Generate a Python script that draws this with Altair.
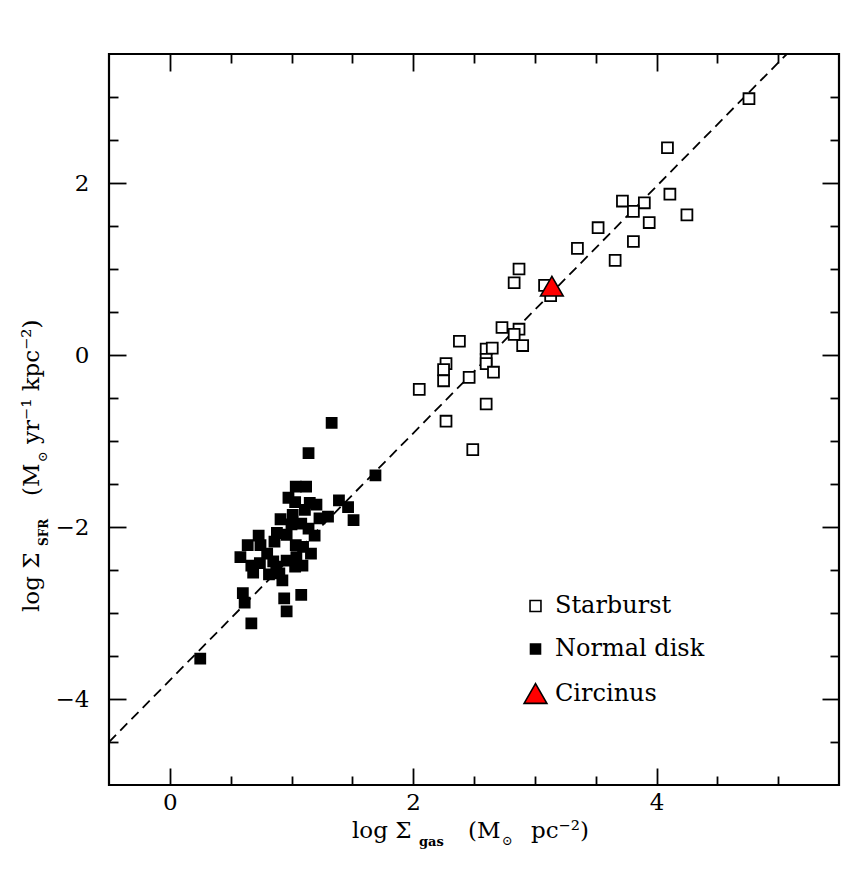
import altair as alt
import pandas as pd

# ---------------- data ----------------
starburst_x = [2.87, 2.83, 3.08, 3.13, 2.73, 2.87, 2.83, 2.90, 2.38, 2.60, 2.65,
               2.60, 2.60, 2.66, 2.27, 2.25, 2.25, 2.46, 2.05, 2.60, 2.27, 2.49,
               4.76, 4.09, 4.11, 4.25, 3.72, 3.90, 3.81, 3.94, 3.52, 3.81, 3.35, 3.66]
starburst_y = [1.00, 0.84, 0.81, 0.69, 0.32, 0.30, 0.24, 0.11, 0.16, 0.07, 0.08,
               -0.05, -0.10, -0.20, -0.10, -0.17, -0.30, -0.26, -0.40, -0.57, -0.77, -1.10,
               2.98, 2.41, 1.87, 1.63, 1.79, 1.77, 1.67, 1.54, 1.48, 1.32, 1.24, 1.10]

disk_x = [1.33, 1.14, 1.69, 1.035, 1.12, 0.975, 1.03, 1.15, 1.205, 1.39, 1.465,
          1.51, 1.30, 1.23, 1.11, 1.01, 0.91, 1.00, 1.08, 1.14, 1.19, 0.88,
          0.96, 0.73, 0.745, 0.64, 0.86, 1.035, 1.095, 1.16, 0.80, 0.58, 0.74,
          0.85, 0.96, 1.04, 1.09, 1.03, 0.67, 0.685, 0.815, 0.90, 0.925, 0.875,
          0.60, 0.615, 0.94, 1.08, 0.96, 0.67, 0.25]
disk_y = [-0.79, -1.14, -1.40, -1.53, -1.53, -1.66, -1.71, -1.72, -1.74, -1.69, -1.77,
          -1.92, -1.88, -1.90, -1.80, -1.86, -1.91, -1.97, -1.96, -2.02, -2.10, -2.07,
          -2.09, -2.10, -2.21, -2.21, -2.17, -2.21, -2.23, -2.31, -2.31, -2.35, -2.42,
          -2.40, -2.39, -2.35, -2.45, -2.46, -2.45, -2.53, -2.55, -2.54, -2.62, -2.46,
          -2.77, -2.88, -2.83, -2.79, -2.98, -3.12, -3.53]

circinus_x = [3.14]
circinus_y = [0.80]

fit_x = [-0.5, 5.071]
fit_y = [-4.50, 3.50]

categories = ["Starburst", "Normal disk", "Circinus"]
x_ticks = [0, 0.5, 1, 1.5, 2, 2.5, 3, 3.5, 4, 4.5, 5]
y_ticks = [-4.5, -4, -3.5, -3, -2.5, -2, -1.5, -1, -0.5, 0, 0.5, 1, 1.5, 2, 2.5, 3]
x_labels = [0, 2, 4]
y_labels = [-4, -2, 0, 2]

# ---------------- tables ----------------
squares = pd.DataFrame({
    "x": starburst_x + disk_x,
    "y": starburst_y + disk_y,
    "type": ["Starburst"] * len(starburst_x) + ["Normal disk"] * len(disk_x),
})
circ = pd.DataFrame({"x": circinus_x, "y": circinus_y, "type": ["Circinus"]})
fit = pd.DataFrame({"x": fit_x, "y": fit_y})

W, H = 730, 731
FONT = "DejaVu Serif"
xs = alt.Scale(domain=[-0.5, 5.5], nice=False, zero=False)
ys = alt.Scale(domain=[-5, 3.5], nice=False, zero=False)

tick_cond = {"condition": {"test": "abs(datum.value % 2) < 0.01", "value": 17}, "value": 9}


def tick_axis(orient, offset, values):
    return alt.Axis(orient=orient, offset=offset, values=values, labels=False,
                    domain=False, grid=False, ticks=True, tickColor="black",
                    tickWidth=1.8, tickSize=tick_cond, title=None)


legend = alt.Legend(orient="none", legendX=414, legendY=540, title=None,
                    labelFont=FONT, labelFontSize=24, labelColor="black",
                    symbolStrokeColor="black", symbolStrokeWidth=1.6,
                    rowPadding=19, labelOffset=7, padding=0)

fill_enc = alt.Fill("type:N", scale=alt.Scale(domain=categories, range=["white", "black", "#ff0000"]),
                    legend=legend)
stroke_enc = alt.Stroke("type:N", scale=alt.Scale(domain=categories, range=["black", "black", "black"]),
                        legend=legend)
shape_enc = alt.Shape("type:N", scale=alt.Scale(domain=categories, range=["square", "square", "triangle-up"]),
                      legend=legend)
size_enc = alt.Size("type:N", scale=alt.Scale(type="ordinal", domain=categories, range=[119, 100, 520]),
                    legend=legend)

# dashed fit line, with label axes
line = alt.Chart(fit).mark_line(color="black", strokeWidth=1.8, strokeDash=[10, 6], clip=True).encode(
    x=alt.X("x:Q", scale=xs, axis=alt.Axis(orient="bottom", values=x_labels, ticks=False, tickSize=0,
                                           domain=False, grid=False, labelFont=FONT, labelFontSize=23,
                                           labelColor="black", labelPadding=6, title=None)),
    y=alt.Y("y:Q", scale=ys, axis=alt.Axis(orient="left", values=y_labels, ticks=False, tickSize=0,
                                           domain=False, grid=False, labelFont=FONT, labelFontSize=23,
                                           labelColor="black", labelPadding=20, title=None)),
)

pts = alt.Chart(squares).mark_point(filled=True, strokeWidth=1.8, opacity=1).encode(
    x=alt.X("x:Q", scale=xs, axis=tick_axis("top", -H, x_ticks)),
    y=alt.Y("y:Q", scale=ys, axis=tick_axis("right", -W, y_ticks)),
    fill=fill_enc, stroke=stroke_enc, shape=shape_enc, size=size_enc,
)

tri = alt.Chart(circ).mark_point(filled=True, strokeWidth=1.5, opacity=1).encode(
    x=alt.X("x:Q", scale=xs, axis=tick_axis("bottom", -H, x_ticks)),
    y=alt.Y("y:Q", scale=ys, axis=tick_axis("left", -W, y_ticks)),
    fill=fill_enc, stroke=stroke_enc, shape=shape_enc, size=size_enc,
)

one = pd.DataFrame({"a": [0]})


def txt(s, x, y, size=23, weight="normal", angle=0):
    return alt.Chart(one).mark_text(text=s, font=FONT, fontSize=size, fontWeight=weight,
                                    align="left", baseline="alphabetic", angle=angle,
                                    color="black").encode(x=alt.value(x), y=alt.value(y))


titles = [
    txt("log Σ", 243, 784),
    txt("gas", 310, 792, 13, "bold"),
    txt("(M", 359, 784),
    txt("⊙", 393, 791, 13),
    txt("pc⁻²)", 422, 784),
    txt("log Σ", -70, 558, angle=270),
    txt("SFR", -61, 492, 12, "bold", angle=270),
    txt("(M", -70, 442, angle=270),
    txt("⊙", -62, 408, 13, angle=270),
    txt("yr⁻¹ kpc⁻²)", -70, 390, angle=270),
]

chart = alt.layer(line, pts, tri, *titles).resolve_axis(
    x="independent", y="independent"
).properties(
    width=W, height=H,
    autosize=alt.AutoSizeParams(type="none"),
    padding={"left": 101, "top": 46, "right": 20, "bottom": 80},
    background="white",
).configure_view(stroke="black", strokeWidth=2.2)

chart.save("out.html", embed_options={"renderer": "svg", "actions": False})
